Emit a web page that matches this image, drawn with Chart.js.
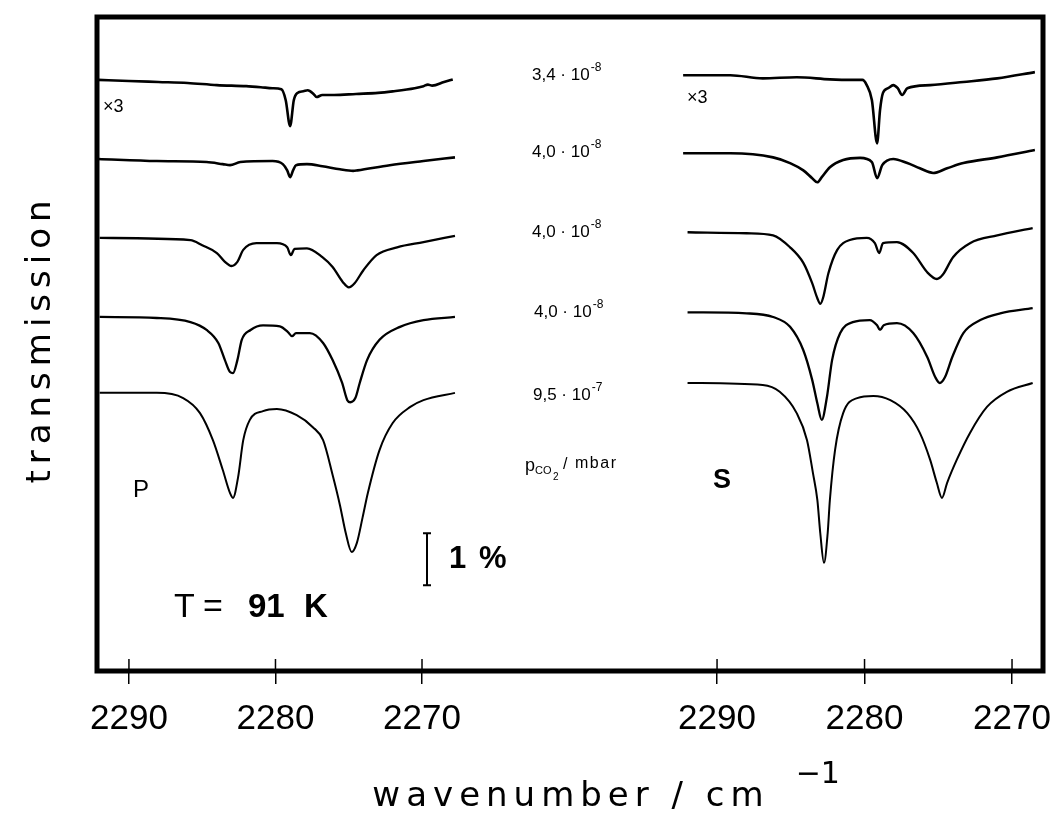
<!DOCTYPE html>
<html><head><meta charset="utf-8">
<script src="https://cdn.jsdelivr.net/npm/chart.js@4.4.1/dist/chart.umd.min.js"></script>
<style>html,body{margin:0;padding:0;background:#fff;}#wrap{width:1054px;height:822px;}</style>
</head><body><div id="wrap"><canvas id="c" width="1054" height="822"></canvas></div>
<script>
// ---- tick labels (wavenumber / cm^-1) ----
const tickValues = [2290, 2280, 2270];
// ---- CO2 pressure labels (mbar) ----
const pressureMantissa = ['3,4', '4,0', '4,0', '4,0', '9,5'];
const pressureExponent = ['-8', '-8', '-8', '-8', '-7'];

// ---- panel P : wavenumber (cm^-1) and transmission (%, offset) ----
const wnP1 = [2292.1, 2290, 2288, 2286, 2284, 2282, 2281, 2280.2, 2279.6, 2279.3, 2279.0, 2278.75, 2278.5, 2278.1, 2277.8, 2277.4, 2277.2, 2276.8, 2276, 2274.5, 2273, 2272, 2270.5, 2269.9, 2269.6, 2269.3, 2268.5, 2267.9];
const trP1 = [11.37, 11.35, 11.33, 11.31, 11.27, 11.25, 11.23, 11.21, 11.19, 10.98, 10.48, 10.98, 11.12, 11.15, 11.17, 11.10, 11.04, 11.08, 11.08, 11.10, 11.12, 11.15, 11.21, 11.25, 11.28, 11.26, 11.33, 11.38];

const wnP2 = [2292.1, 2288.1, 2284.7, 2283.6, 2283.1, 2282.4, 2280.2, 2279.5, 2279.2, 2279.0, 2278.8, 2278.6, 2277.85, 2276.8, 2275.6, 2274.7, 2274.4, 2272.2, 2269.9, 2267.75];
const trP2 = [9.85, 9.81, 9.79, 9.75, 9.73, 9.79, 9.81, 9.75, 9.63, 9.50, 9.63, 9.73, 9.75, 9.71, 9.65, 9.62, 9.63, 9.73, 9.81, 9.88];

const wnP3 = [2292.0, 2285.8, 2285.0, 2284.0, 2283.45, 2283.0, 2282.6, 2282.2, 2281.3, 2279.9, 2279.2, 2278.95, 2278.7, 2277.85, 2276.8, 2276.1, 2275.4, 2275.0, 2274.6, 2274.0, 2273.1, 2271.7, 2269.9, 2267.75];
const trP3 = [8.33, 8.29, 8.19, 8.04, 7.87, 7.79, 7.87, 8.10, 8.23, 8.23, 8.15, 8.00, 8.12, 8.13, 7.96, 7.77, 7.48, 7.38, 7.46, 7.71, 8.00, 8.15, 8.25, 8.37];

const wnP4 = [2292.0, 2288.1, 2285.8, 2284.7, 2283.9, 2283.45, 2283.1, 2282.9, 2282.6, 2282.3, 2281.7, 2280.85, 2279.7, 2279.15, 2278.87, 2278.6, 2277.65, 2276.75, 2276.1, 2275.45, 2275.1, 2274.9, 2274.55, 2274.25, 2273.75, 2272.9, 2271.5, 2269.9, 2267.75];
const trP4 = [6.81, 6.79, 6.71, 6.56, 6.31, 5.98, 5.75, 5.73, 5.98, 6.37, 6.56, 6.65, 6.63, 6.52, 6.44, 6.50, 6.50, 6.31, 5.98, 5.54, 5.21, 5.17, 5.25, 5.54, 5.98, 6.37, 6.62, 6.75, 6.81];

const wnP5 = [2292.0, 2288.1, 2286.3, 2285.15, 2284.27, 2283.6, 2283.1, 2282.9, 2282.55, 2282.2, 2281.75, 2280.85, 2279.9, 2278.55, 2277.45, 2276.75, 2276.1, 2275.6, 2275.2, 2274.8, 2274.45, 2274.05, 2273.7, 2272.9, 2272.0, 2270.8, 2269.9, 2267.75];
const trP5 = [5.35, 5.35, 5.25, 4.96, 4.44, 3.87, 3.42, 3.33, 3.73, 4.44, 4.83, 5.00, 5.04, 4.92, 4.69, 4.44, 3.77, 3.19, 2.65, 2.29, 2.46, 2.96, 3.42, 4.25, 4.77, 5.08, 5.21, 5.35];

// ---- panel S ----
const wnS1 = [2292.3, 2289.1, 2286.9, 2284.6, 2282.35, 2280.8, 2280.15, 2279.85, 2279.5, 2279.15, 2278.95, 2278.75, 2278.4, 2278.05, 2277.75, 2277.45, 2277.1, 2275.55, 2273.3, 2271.0, 2268.45];
const trS1 = [11.46, 11.46, 11.40, 11.42, 11.38, 11.37, 11.37, 11.27, 10.98, 10.15, 10.79, 11.12, 11.21, 11.27, 11.21, 11.08, 11.21, 11.27, 11.33, 11.40, 11.52];

const wnS2 = [2292.3, 2289.1, 2286.2, 2285.05, 2284.15, 2283.55, 2283.2, 2282.9, 2282.35, 2281.45, 2280.3, 2279.5, 2279.15, 2278.8, 2278.05, 2277.1, 2276.25, 2275.35, 2274.4, 2273.3, 2271.0, 2268.45];
const trS2 = [9.96, 9.96, 9.88, 9.77, 9.63, 9.48, 9.40, 9.50, 9.69, 9.83, 9.87, 9.79, 9.48, 9.73, 9.85, 9.77, 9.67, 9.58, 9.67, 9.77, 9.88, 10.02];

const wnS3 = [2292.0, 2288.0, 2286.2, 2285.05, 2284.15, 2283.55, 2283.2, 2283.0, 2282.8, 2282.45, 2281.85, 2281.0, 2279.85, 2279.3, 2279.0, 2278.75, 2277.8, 2276.7, 2275.75, 2275.1, 2274.7, 2274.0, 2272.85, 2271.0, 2268.6];
const trS3 = [8.44, 8.42, 8.38, 8.15, 7.85, 7.46, 7.17, 7.06, 7.19, 7.65, 8.10, 8.29, 8.33, 8.23, 8.04, 8.23, 8.25, 8.04, 7.67, 7.54, 7.62, 7.96, 8.23, 8.38, 8.52];

const wnS4 = [2292.0, 2288.0, 2286.2, 2285.05, 2284.15, 2283.55, 2283.2, 2282.9, 2282.55, 2282.2, 2281.65, 2280.8, 2279.65, 2279.15, 2278.95, 2278.7, 2277.8, 2276.7, 2275.75, 2275.2, 2274.9, 2274.55, 2274.05, 2273.3, 2272.15, 2270.8, 2268.6];
const trS4 = [6.90, 6.88, 6.81, 6.62, 6.17, 5.60, 5.15, 4.83, 5.27, 5.98, 6.50, 6.71, 6.75, 6.65, 6.56, 6.65, 6.69, 6.50, 6.04, 5.65, 5.54, 5.65, 6.04, 6.50, 6.75, 6.88, 6.98];

const wnS5 = [2292.0, 2286.9, 2285.75, 2284.6, 2283.9, 2283.5, 2283.2, 2283.0, 2282.75, 2282.5, 2282.35, 2282.0, 2281.45, 2280.5, 2279.4, 2278.25, 2277.1, 2276.25, 2275.55, 2275.1, 2274.75, 2274.4, 2273.75, 2272.85, 2271.7, 2270.35, 2268.6];
const trS5 = [5.54, 5.50, 5.37, 4.96, 4.44, 3.81, 3.29, 2.65, 2.08, 2.65, 3.29, 4.25, 4.96, 5.25, 5.29, 5.21, 4.96, 4.58, 4.06, 3.62, 3.33, 3.62, 4.06, 4.58, 5.08, 5.37, 5.54];

const panelP = [[wnP1, trP1], [wnP2, trP2], [wnP3, trP3], [wnP4, trP4], [wnP5, trP5]];
const panelS = [[wnS1, trS1], [wnS2, trS2], [wnS3, trS3], [wnS4, trS4], [wnS5, trS5]];
const widths = [2.6, 2.6, 2.3, 2.3, 2.0];

function makeSet(pair, axis, i) {
  return {
    data: pair[0].map((w, k) => ({x: w, y: pair[1][k]})),
    xAxisID: axis, yAxisID: 'y',
    borderColor: '#000', borderWidth: widths[i], pointRadius: 0,
    cubicInterpolationMode: 'monotone', fill: false
  };
}
const datasets = panelP.map((p, i) => makeSet(p, 'xP', i)).concat(panelS.map((p, i) => makeSet(p, 'xS', i)));

function xScale(min, max) {
  return {
    type: 'linear', position: 'bottom', stack: 'wn', stackWeight: 1, reverse: true,
    min: min, max: max,
    afterBuildTicks: s => { s.ticks = tickValues.map(v => ({value: v})); },
    afterFit: s => { s.height = 151; s.paddingLeft = 0; s.paddingRight = 0; },
    border: {display: false},
    grid: {drawOnChartArea: false, drawTicks: true, tickLength: 13, color: '#000', lineWidth: 1.5},
    ticks: {autoSkip: false, maxRotation: 0, padding: 14, color: '#000',
      font: {family: 'Liberation Sans', size: 35}, callback: v => String(v)}
  };
}

function spacedWidth(ctx, s, sp) {
  let w = 0; for (const ch of s) w += ctx.measureText(ch).width + sp; return w - sp;
}
function spaced(ctx, s, x, y, sp) {
  ctx.textAlign = 'left';
  for (const ch of s) { ctx.fillText(ch, x, y); x += ctx.measureText(ch).width + sp; }
  return x - sp;
}

const annot = {
  id: 'annot',
  afterDraw(chart) {
    const ctx = chart.ctx, ca = chart.chartArea, ys = chart.scales.y;
    ctx.save();
    ctx.fillStyle = '#000'; ctx.strokeStyle = '#000';
    ctx.lineWidth = 5;
    ctx.strokeRect(ca.left, ca.top, ca.right - ca.left, ca.bottom - ca.top);
    ctx.lineWidth = 1.5;
    ['xP', 'xS'].forEach(id => {
      const s = chart.scales[id];
      s.ticks.forEach(t => {
        const px = s.getPixelForValue(t.value);
        ctx.beginPath(); ctx.moveTo(px, ca.bottom); ctx.lineTo(px, ca.bottom - 12); ctx.stroke();
      });
    });
    ctx.textBaseline = 'alphabetic';
    // x3 markers
    ctx.font = '18px "Liberation Sans"'; ctx.textAlign = 'left';
    ctx.fillText('×3', 103, 112);
    ctx.fillText('×3', 687, 103);
    // pressure labels
    const base = [80, 157, 237, 317, 400];
    const lx = [532, 532, 532, 534, 533];
    for (let i = 0; i < 5; i++) {
      ctx.font = '17px "Liberation Sans"';
      const t = pressureMantissa[i] + ' · 10';
      ctx.fillText(t, lx[i], base[i]);
      const w = ctx.measureText(t).width;
      ctx.font = '12px "Liberation Sans"';
      ctx.fillText(pressureExponent[i], lx[i] + w + 1, base[i] - 9);
    }
    // p_CO2 / mbar
    ctx.font = '18px "Liberation Sans"'; ctx.fillText('p', 525, 471);
    ctx.font = '11px "Liberation Sans"'; ctx.fillText('CO', 535, 474);
    ctx.font = '10px "Liberation Sans"'; ctx.fillText('2', 553, 480);
    ctx.font = '16px "Liberation Sans"'; ctx.fillText('/', 563, 469);
    spaced(ctx, 'mbar', 575, 468, 1.5);
    // panel letters
    ctx.font = '24px "Liberation Sans"'; ctx.fillText('P', 133, 497);
    ctx.font = 'bold 27px "Liberation Sans"'; ctx.fillText('S', 713, 488);
    // temperature
    ctx.font = '34px "Liberation Sans"';
    ctx.fillText('T', 174, 617);
    ctx.fillText('=', 203, 617);
    ctx.font = 'bold 33px "Liberation Sans"';
    ctx.fillText('91', 248, 617);
    ctx.fillText('K', 304, 617);
    // 1 % scale bar drawn with the y scale
    const yb = ys.getPixelForValue(1.65), yt = ys.getPixelForValue(2.65);
    ctx.lineWidth = 2;
    ctx.beginPath();
    ctx.moveTo(427, yb); ctx.lineTo(427, yt);
    ctx.moveTo(423, yb); ctx.lineTo(431, yb);
    ctx.moveTo(423, yt); ctx.lineTo(431, yt);
    ctx.stroke();
    ctx.font = 'bold 31px "Liberation Sans"';
    ctx.fillText('1', 449, 568);
    ctx.fillText('%', 479, 568);
    // axis titles
    ctx.font = '34px "DejaVu Sans"';
    ctx.save();
    ctx.translate(50, 342); ctx.rotate(-Math.PI / 2);
    const tw = spacedWidth(ctx, 'transmission', 6);
    spaced(ctx, 'transmission', -tw / 2, 0, 6);
    ctx.restore();
    ctx.font = '34px "DejaVu Sans"';
    const xt = 'wavenumber / cm';
    const xw = spacedWidth(ctx, xt, 6);
    const endX = spaced(ctx, xt, 568 - xw / 2, 806, 6);
    ctx.font = '30px "DejaVu Sans"';
    ctx.fillText('−1', endX + 32, 783);
    ctx.restore();
  }
};

new Chart(document.getElementById('c'), {
  type: 'line',
  data: {datasets: datasets},
  options: {
    responsive: false, animation: false, devicePixelRatio: 1,
    layout: {padding: {left: 97, right: 11, top: 17, bottom: 0}},
    plugins: {legend: {display: false}, tooltip: {enabled: false}},
    scales: {
      xP: xScale(2259.9, 2292.18),
      xS: xScale(2267.9, 2299.97),
      y: {type: 'linear', display: false, min: 0, max: 12.58}
    }
  },
  plugins: [annot]
});
</script></body></html>
